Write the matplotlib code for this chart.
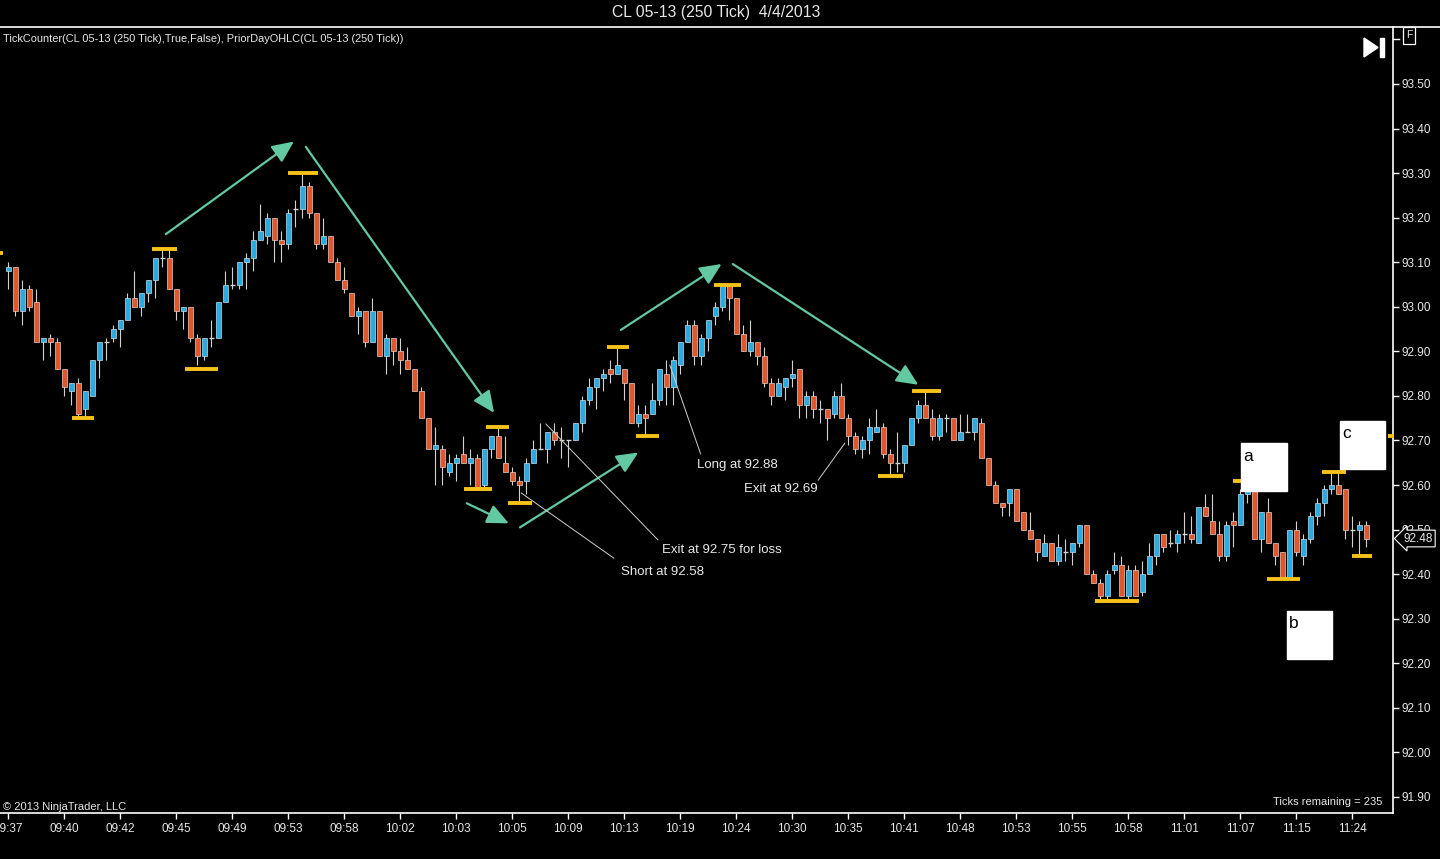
import matplotlib
matplotlib.use("Agg")
import matplotlib.pyplot as plt
from matplotlib.patches import Rectangle, Polygon
from matplotlib.lines import Line2D
import matplotlib.transforms as mtransforms
import numpy as np

plt.rcParams['font.family'] = ['Liberation Sans', 'DejaVu Sans']

# 250 tick bars, CL 05-13, 4/4/2013
opens = [93.08, 93.09, 92.99, 93.04, 93.01, 92.92, 92.93, 92.92, 92.86, 92.81,
         92.83, 92.77, 92.80, 92.88, 92.92, 92.93, 92.95, 92.97, 93.02, 93.00,
         93.03, 93.06, 93.11, 93.11, 93.04, 92.99, 93.00, 92.93, 92.89, 92.93,
         92.93, 93.01, 93.05, 93.05, 93.10, 93.11, 93.15, 93.16, 93.20, 93.15,
         93.14, 93.22, 93.22, 93.27, 93.21, 93.14, 93.16, 93.10, 93.06, 93.03,
         92.98, 92.99, 92.92, 92.99, 92.89, 92.93, 92.90, 92.88, 92.86, 92.81,
         92.75, 92.68, 92.68, 92.63, 92.65, 92.67, 92.65, 92.66, 92.60, 92.68,
         92.71, 92.65, 92.63, 92.61, 92.61, 92.65, 92.68, 92.68, 92.72, 92.70,
         92.70, 92.70, 92.74, 92.79, 92.82, 92.84, 92.86, 92.85, 92.86, 92.83,
         92.74, 92.76, 92.76, 92.79, 92.85, 92.82, 92.87, 92.92, 92.96, 92.89,
         92.93, 92.98, 93.00, 93.05, 93.02, 92.94, 92.90, 92.92, 92.89, 92.83,
         92.80, 92.82, 92.84, 92.86, 92.78, 92.80, 92.77, 92.77, 92.76, 92.80,
         92.75, 92.71, 92.68, 92.70, 92.72, 92.73, 92.67, 92.65, 92.65, 92.69,
         92.75, 92.78, 92.75, 92.71, 92.75, 92.75, 92.70, 92.72, 92.72, 92.74,
         92.66, 92.60, 92.56, 92.56, 92.59, 92.54, 92.50, 92.48, 92.44, 92.47,
         92.43, 92.45, 92.45, 92.47, 92.51, 92.40, 92.38, 92.35, 92.41, 92.42,
         92.35, 92.41, 92.36, 92.40, 92.44, 92.49, 92.47, 92.47, 92.49, 92.49,
         92.47, 92.55, 92.52, 92.49, 92.44, 92.52, 92.51, 92.58, 92.59, 92.48,
         92.54, 92.47, 92.45, 92.39, 92.50, 92.44, 92.48, 92.53, 92.56, 92.59,
         92.60, 92.59, 92.50, 92.50, 92.51]
highs = [93.10, 93.09, 93.06, 93.05, 93.04, 92.93, 92.94, 92.93, 92.86, 92.83,
         92.84, 92.81, 92.88, 92.92, 92.93, 92.96, 92.97, 93.03, 93.08, 93.03,
         93.06, 93.11, 93.13, 93.13, 93.04, 93.00, 93.00, 92.94, 92.93, 92.97,
         93.01, 93.08, 93.09, 93.10, 93.12, 93.17, 93.23, 93.21, 93.20, 93.17,
         93.22, 93.24, 93.30, 93.28, 93.21, 93.20, 93.16, 93.11, 93.09, 93.03,
         93.00, 92.99, 93.02, 92.99, 92.94, 92.93, 92.93, 92.91, 92.86, 92.82,
         92.75, 92.73, 92.69, 92.67, 92.67, 92.71, 92.68, 92.67, 92.68, 92.71,
         92.73, 92.71, 92.64, 92.62, 92.66, 92.70, 92.74, 92.72, 92.74, 92.73,
         92.70, 92.74, 92.80, 92.84, 92.84, 92.86, 92.88, 92.91, 92.86, 92.83,
         92.78, 92.78, 92.83, 92.86, 92.88, 92.89, 92.92, 92.97, 92.97, 92.94,
         92.97, 93.01, 93.05, 93.05, 93.02, 92.96, 92.97, 92.92, 92.91, 92.84,
         92.84, 92.84, 92.88, 92.86, 92.81, 92.81, 92.79, 92.77, 92.81, 92.83,
         92.76, 92.72, 92.71, 92.75, 92.77, 92.74, 92.68, 92.72, 92.69, 92.75,
         92.79, 92.81, 92.77, 92.76, 92.76, 92.75, 92.76, 92.76, 92.75, 92.75,
         92.66, 92.61, 92.56, 92.59, 92.59, 92.54, 92.54, 92.48, 92.49, 92.47,
         92.49, 92.48, 92.47, 92.51, 92.51, 92.41, 92.39, 92.41, 92.45, 92.44,
         92.42, 92.42, 92.43, 92.47, 92.49, 92.49, 92.50, 92.50, 92.54, 92.53,
         92.55, 92.58, 92.58, 92.52, 92.52, 92.54, 92.59, 92.61, 92.61, 92.54,
         92.57, 92.47, 92.45, 92.50, 92.52, 92.49, 92.54, 92.57, 92.60, 92.63,
         92.63, 92.59, 92.53, 92.52, 92.52]
lows = [93.04, 92.98, 92.96, 92.99, 92.92, 92.88, 92.89, 92.86, 92.80, 92.78,
        92.75, 92.75, 92.80, 92.84, 92.88, 92.92, 92.91, 92.97, 93.00, 92.98,
        93.01, 93.02, 93.09, 93.04, 92.97, 92.95, 92.92, 92.87, 92.88, 92.91,
        92.93, 93.01, 93.04, 93.04, 93.04, 93.08, 93.15, 93.14, 93.10, 93.10,
        93.13, 93.18, 93.20, 93.20, 93.13, 93.13, 93.10, 93.06, 93.03, 92.98,
        92.94, 92.91, 92.92, 92.89, 92.85, 92.87, 92.85, 92.86, 92.81, 92.75,
        92.68, 92.60, 92.60, 92.62, 92.61, 92.65, 92.60, 92.59, 92.59, 92.66,
        92.66, 92.63, 92.60, 92.56, 92.58, 92.65, 92.68, 92.65, 92.69, 92.66,
        92.64, 92.70, 92.72, 92.78, 92.77, 92.81, 92.83, 92.85, 92.79, 92.74,
        92.73, 92.71, 92.76, 92.78, 92.78, 92.78, 92.85, 92.92, 92.87, 92.87,
        92.90, 92.96, 92.99, 92.97, 92.94, 92.90, 92.89, 92.87, 92.82, 92.78,
        92.80, 92.79, 92.82, 92.75, 92.75, 92.75, 92.74, 92.70, 92.75, 92.75,
        92.69, 92.67, 92.66, 92.67, 92.72, 92.66, 92.62, 92.63, 92.63, 92.69,
        92.74, 92.75, 92.70, 92.70, 92.72, 92.70, 92.70, 92.72, 92.70, 92.66,
        92.60, 92.56, 92.53, 92.53, 92.52, 92.50, 92.48, 92.43, 92.44, 92.43,
        92.42, 92.43, 92.42, 92.46, 92.40, 92.38, 92.34, 92.34, 92.40, 92.35,
        92.34, 92.35, 92.35, 92.40, 92.42, 92.45, 92.46, 92.45, 92.47, 92.47,
        92.47, 92.53, 92.49, 92.43, 92.43, 92.46, 92.51, 92.56, 92.48, 92.45,
        92.47, 92.42, 92.39, 92.39, 92.44, 92.42, 92.47, 92.51, 92.53, 92.58,
        92.58, 92.48, 92.46, 92.44, 92.46]
closes = [93.09, 92.99, 93.04, 93.00, 92.92, 92.93, 92.92, 92.86, 92.82, 92.83,
          92.76, 92.81, 92.88, 92.92, 92.92, 92.95, 92.97, 93.02, 93.00, 93.03,
          93.06, 93.11, 93.11, 93.04, 92.99, 93.00, 92.93, 92.89, 92.93, 92.93,
          93.01, 93.05, 93.05, 93.10, 93.11, 93.15, 93.17, 93.20, 93.15, 93.14,
          93.21, 93.22, 93.27, 93.21, 93.14, 93.16, 93.10, 93.06, 93.04, 92.98,
          92.99, 92.92, 92.99, 92.89, 92.93, 92.90, 92.88, 92.86, 92.81, 92.75,
          92.68, 92.69, 92.64, 92.65, 92.66, 92.65, 92.66, 92.59, 92.68, 92.71,
          92.66, 92.63, 92.61, 92.60, 92.65, 92.68, 92.68, 92.72, 92.70, 92.70,
          92.70, 92.74, 92.79, 92.82, 92.84, 92.85, 92.85, 92.87, 92.83, 92.74,
          92.76, 92.75, 92.79, 92.86, 92.82, 92.88, 92.92, 92.96, 92.89, 92.93,
          92.97, 93.00, 93.05, 93.02, 92.94, 92.90, 92.92, 92.89, 92.83, 92.80,
          92.83, 92.84, 92.85, 92.78, 92.80, 92.77, 92.77, 92.75, 92.80, 92.75,
          92.71, 92.68, 92.70, 92.73, 92.73, 92.67, 92.65, 92.65, 92.69, 92.75,
          92.78, 92.75, 92.71, 92.75, 92.75, 92.70, 92.72, 92.72, 92.75, 92.66,
          92.60, 92.56, 92.55, 92.59, 92.52, 92.50, 92.48, 92.45, 92.47, 92.43,
          92.46, 92.45, 92.47, 92.51, 92.40, 92.38, 92.35, 92.40, 92.42, 92.35,
          92.41, 92.35, 92.40, 92.44, 92.49, 92.46, 92.47, 92.49, 92.49, 92.48,
          92.55, 92.53, 92.49, 92.44, 92.51, 92.51, 92.58, 92.59, 92.48, 92.54,
          92.47, 92.44, 92.39, 92.50, 92.45, 92.48, 92.53, 92.56, 92.59, 92.60,
          92.58, 92.50, 92.50, 92.51, 92.48]

# x axis labels, one every 8 bars
time_labels = ['09:37', '09:40', '09:42', '09:45', '09:49', '09:53', '09:58', '10:02',
               '10:03', '10:05', '10:09', '10:13', '10:19', '10:24', '10:30', '10:35',
               '10:41', '10:48', '10:53', '10:55', '10:58', '11:01', '11:07', '11:15',
               '11:24']
price_ticks = [91.90, 92.00, 92.10, 92.20, 92.30, 92.40, 92.50, 92.60,
               92.70, 92.80, 92.90, 93.00, 93.10, 93.20, 93.30, 93.40, 93.50]

# swing high / low markers: (bar from, bar to, price)
swing_marks = [(-1.2, -0.8, 93.12), (9.1, 12.2, 92.75), (20.5, 24.1, 93.13),
               (25.3, 30.0, 92.86), (40.0, 44.2, 93.30), (65.1, 69.1, 92.59),
               (68.3, 71.5, 92.73), (71.4, 74.8, 92.56), (85.5, 88.7, 92.91),
               (89.7, 92.9, 92.71), (100.8, 104.7, 93.05), (124.3, 127.8, 92.62),
               (129.1, 133.3, 92.81), (155.2, 161.5, 92.34), (174.9, 178.5, 92.61),
               (179.8, 184.5, 92.39), (187.7, 191.1, 92.63), (192.0, 194.8, 92.44),
               (197.1, 197.9, 92.71)]

# hand drawn trend arrows: (bar start, price start, bar end, price end)
trend_arrows = [(22.5, 93.163, 40.8, 93.371), (42.5, 93.359, 69.4, 92.762),
                (65.5, 92.559, 71.5, 92.514), (73.1, 92.505, 90.0, 92.673),
                (87.5, 92.948, 101.9, 93.096), (103.5, 93.096, 130.0, 92.825)]

# trade notes: text, text pos, line start, line end
trade_notes = [('Short at 92.58', (87.5, 92.405), (73.3, 92.582), (86.5, 92.436)),
               ('Exit at 92.75 for loss', (93.4, 92.454), (76.8, 92.737), (92.8, 92.477)),
               ('Long at 92.88', (98.4, 92.645), (94.5, 92.869), (98.9, 92.670)),
               ('Exit at 92.69', (105.1, 92.591), (119.5, 92.694), (115.7, 92.611))]

# labelled white boxes: label, bar from, bar to, price low, price high
label_boxes = [('a', 176.1, 182.7, 92.586, 92.694),
               ('b', 182.7, 189.1, 92.210, 92.317),
               ('c', 190.2, 196.7, 92.636, 92.744)]

UP = '#29abe2'
DOWN = '#e2562c'
WICK = '#d2d2d2'
GOLD = '#f6c21a'
GREEN = '#62c9a3'
FG = '#e8e8e8'

W, H = 1440, 859


def fx(px):
    return px / W


def fy(py):
    return 1 - py / H


fig = plt.figure(figsize=(14.4, 8.59), dpi=100, facecolor='black')
ax = fig.add_axes([0, fy(813), fx(1393), (813 - 27) / H])
ax.set_facecolor('black')

o = np.array(opens)
h = np.array(highs)
l = np.array(lows)
c = np.array(closes)
x = np.arange(len(o))

# wicks
ax.vlines(x, l, h, color=WICK, lw=0.8, zorder=2)

up = c > o
dn = c < o
doji = c == o
ax.bar(x[up], (c - o)[up], bottom=o[up], width=0.7, color=UP,
       edgecolor='#c8dce6', lw=0.5, zorder=3)
ax.bar(x[dn], (o - c)[dn], bottom=c[dn], width=0.7, color=DOWN,
       edgecolor='#e6cfc8', lw=0.5, zorder=3)
ax.hlines(c[doji], x[doji] - 0.38, x[doji] + 0.38, color=WICK, lw=1.0, zorder=3)

for x0, x1, p in swing_marks:
    ax.plot([x0, x1], [p, p], color=GOLD, lw=2.8, solid_capstyle='butt', zorder=4,
            clip_on=False)

for x0, y0, x1, y1 in trend_arrows:
    ax.annotate('', xy=(x1, y1), xytext=(x0, y0),
                arrowprops=dict(arrowstyle='-|>,head_length=1.1,head_width=0.5',
                                color=GREEN, lw=1.6, mutation_scale=12,
                                shrinkA=0, shrinkB=0), zorder=5)

for txt, tpos, p0, p1 in trade_notes:
    ax.plot([p0[0], p1[0]], [p0[1], p1[1]], color='#cfcfcf', lw=0.7, zorder=5)
    ax.text(tpos[0], tpos[1], txt, color=FG, fontsize=9.5, ha='left', va='center',
            zorder=6)

for lab, x0, x1, p0, p1 in label_boxes:
    ax.add_patch(Rectangle((x0, p0), x1 - x0, p1 - p0, facecolor='white',
                           edgecolor='white', zorder=7, clip_on=False))
    ax.text(x0 + 0.3, p1 - 0.012, lab, color='black', fontsize=12.5,
            ha='left', va='top', zorder=8)

ax.set_xlim(-8.3 / 7, (1393 - 8.3) / 7)
ax.set_ylim(93.50 - (813 - 84) / 445.6, 93.50 + (84 - 27) / 445.6)

ax.set_xticks(np.arange(len(time_labels)) * 8)
ax.set_xticklabels(time_labels)
ax.yaxis.tick_right()
ax.set_yticks(price_ticks)
ax.set_yticklabels(['%.2f' % p for p in price_ticks])
ax.tick_params(axis='both', colors='white', labelcolor=FG, labelsize=8.5,
               direction='out', length=4, width=1, pad=2)
ax.tick_params(axis='x', pad=3)

for side in ['top', 'left']:
    ax.spines[side].set_visible(False)
for side in ['bottom', 'right']:
    ax.spines[side].set_color('white')
    ax.spines[side].set_linewidth(1.2)

# last price tag, drawn over the 92.50 label as in the platform
trans = mtransforms.blended_transform_factory(ax.transAxes, ax.transData)
ax.text(1.0075, closes[-1], '%.2f' % closes[-1], transform=trans, color=FG,
        fontsize=8.5, ha='left', va='center', clip_on=False, zorder=10,
        bbox=dict(boxstyle='larrow,pad=0.2', fc='black', ec='white', lw=0.8))

# header and footer text
fig.add_artist(Line2D([0, 1], [fy(27), fy(27)], color='white', lw=1.2))
fig.text(fx(716), fy(13), 'CL 05-13 (250 Tick)  4/4/2013', color=FG,
         fontsize=11.3, ha='center', va='center')
fig.text(fx(3), fy(39), 'TickCounter(CL 05-13 (250 Tick),True,False), '
         'PriorDayOHLC(CL 05-13 (250 Tick))', color=FG, fontsize=7.9,
         ha='left', va='center')
fig.text(fx(3), fy(807), '\u00a9 2013 NinjaTrader, LLC', color=FG, fontsize=8,
         ha='left', va='center')
fig.text(fx(1382), fy(802), 'Ticks remaining = 235', color=FG, fontsize=8,
         ha='right', va='center')
fig.text(fx(1409), fy(35.5), 'F', color=FG, fontsize=7.5, ha='center', va='center',
         bbox=dict(boxstyle='square,pad=0.3', fc='black', ec='white', lw=0.9))
fig.add_artist(Line2D([fx(1393), fx(1399)], [fy(39), fy(39)], color='white', lw=1))

# play-to-end icon
fig.add_artist(Polygon([[fx(1364), fy(38)], [fx(1364), fy(57)], [fx(1378), fy(47.5)]],
                       closed=True, facecolor='white', edgecolor='white'))
fig.add_artist(Rectangle((fx(1380), fy(57)), fx(4), 19 / H, facecolor='white',
                         edgecolor='white'))

fig.savefig('out.png', dpi=100, facecolor='black')
